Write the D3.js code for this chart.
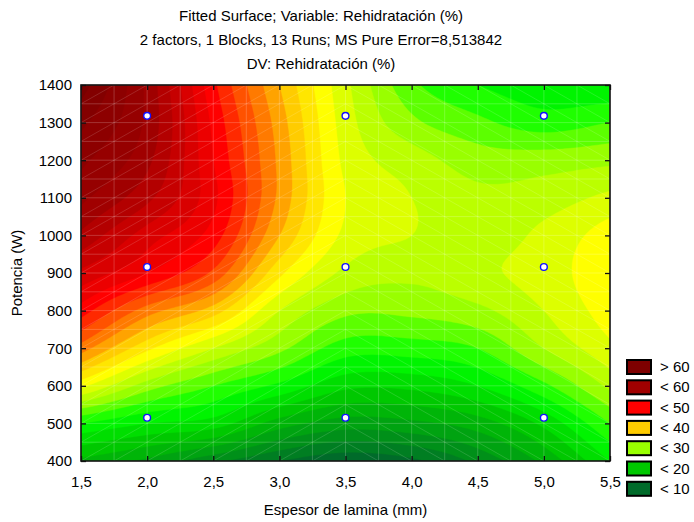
<!DOCTYPE html>
<html><head><meta charset="utf-8">
<script src="https://cdn.jsdelivr.net/npm/d3@7"></script>
<style>
body{margin:0;background:#fff;}
text{font-family:"Liberation Sans",Arial,sans-serif;fill:#000;}
</style></head><body>
<svg id="chart" width="694" height="522"></svg>
<script>
// ---------------- data ----------------
const titleLines = [
  "Fitted Surface; Variable: Rehidratación (%)",
  "2 factors, 1 Blocks, 13 Runs; MS Pure Error=8,513842",
  "DV: Rehidratación (%)"
];
const xTitle = "Espesor de lamina (mm)";
const yTitle = "Potencia (W)";

// grid of the fitted surface
const gridX = [1.5, 2.0, 2.5, 3.0, 3.5, 4.0, 4.5, 5.0, 5.5];
const gridY = [400, 500, 600, 700, 800, 900, 1000, 1100, 1200, 1300, 1400];
// one row per gridY value, one column per gridX value
const gridZ = [
  [17.5, 15.5, 12.5, 10.0,  8.5,  9.5, 12.5, 16.5, 22.0], // 400
  [24.0, 22.0, 21.0, 17.0, 15.0, 15.5, 17.0, 20.5, 26.0], // 500
  [34.5, 29.0, 26.0, 23.5, 20.5, 20.5, 22.0, 25.5, 30.5], // 600
  [43.0, 36.5, 32.0, 28.5, 25.0, 25.0, 26.0, 30.0, 33.5], // 700
  [49.0, 43.0, 39.0, 32.0, 28.5, 28.5, 29.5, 32.0, 35.0], // 800
  [53.5, 50.0, 45.5, 36.5, 31.5, 30.5, 31.5, 33.0, 35.5], // 900
  [57.5, 53.0, 49.0, 40.0, 33.5, 32.0, 31.0, 32.5, 35.0], // 1000
  [60.5, 56.5, 50.5, 41.5, 34.0, 32.0, 30.5, 31.0, 32.5], // 1100
  [62.5, 58.5, 50.0, 41.5, 33.5, 31.0, 29.0, 29.0, 29.5], // 1200
  [64.5, 59.5, 49.5, 41.0, 33.0, 28.5, 26.5, 25.0, 26.0], // 1300
  [67.0, 59.5, 48.5, 40.0, 32.5, 26.5, 24.0, 22.5, 22.0]  // 1400
];

// experimental runs
const runX = [2.0, 2.0, 2.0, 3.5, 3.5, 3.5, 5.0, 5.0, 5.0];
const runY = [515, 916, 1318, 515, 916, 1318, 515, 916, 1318];

const xTicks = [1.5, 2.0, 2.5, 3.0, 3.5, 4.0, 4.5, 5.0, 5.5];
const yTicks = [400, 500, 600, 700, 800, 900, 1000, 1100, 1200, 1300, 1400];

const legendLabels = ["> 60", "< 60", "< 50", "< 40", "< 30", "< 20", "< 10"];
const legendLevels = [67, 60, 50, 40, 30, 20, 10];
const contourStep = 2;

// ---------------- layout ----------------
const svg = d3.select("#chart");
const L = 81, R = 610, T = 85, B = 461;
const x = d3.scaleLinear().domain([1.5, 5.5]).range([L, R]);
const y = d3.scaleLinear().domain([400, 1400]).range([B, T]);

const color = d3.scaleLinear()
  .domain([8, 10, 20, 25, 30, 36, 40, 50, 60, 70])
  .range(["#005c31", "#006b2a", "#00c800", "#00ff00", "#99ff00", "#ffff00", "#ffcc00", "#ff0000", "#a00000", "#700000"])
  .clamp(true);

// ---------------- surface (smooth resampling of the grid) ----------------
const nC = gridX.length, nR = gridY.length;
function g(r, c) {
  if (c < 0) return 2 * g(r, 0) - g(r, 1);
  if (c > nC - 1) return 2 * g(r, nC - 1) - g(r, nC - 2);
  if (r < 0) return 2 * g(0, c) - g(1, c);
  if (r > nR - 1) return 2 * g(nR - 1, c) - g(nR - 2, c);
  return gridZ[r][c];
}
function cr(p0, p1, p2, p3, t) {
  return 0.5 * (2 * p1 + (-p0 + p2) * t + (2 * p0 - 5 * p1 + 4 * p2 - p3) * t * t + (-p0 + 3 * p1 - 3 * p2 + p3) * t * t * t);
}
function zAt(fc, fr) {
  const c = Math.min(Math.floor(fc), nC - 2), r = Math.min(Math.floor(fr), nR - 2);
  const tc = fc - c, tr = fr - r;
  const rows = [];
  for (let m = -1; m <= 2; m++) rows.push(cr(g(r + m, c - 1), g(r + m, c), g(r + m, c + 1), g(r + m, c + 2), tc));
  return cr(rows[0], rows[1], rows[2], rows[3], tr);
}
const NX = 161, NY = 201;
const values = new Float64Array(NX * NY);
for (let j = 0; j < NY; j++) {
  for (let i = 0; i < NX; i++) {
    values[i + j * NX] = zAt(i / (NX - 1) * (nC - 1), j / (NY - 1) * (nR - 1));
  }
}
const x0 = gridX[0], x1 = gridX[nC - 1], y0 = gridY[0], y1 = gridY[nR - 1];
const proj = d3.geoTransform({
  point: function(px, py) {
    const xv = x0 + (px - 0.5) / (NX - 1) * (x1 - x0);
    const yv = y0 + (py - 0.5) / (NY - 1) * (y1 - y0);
    this.stream.point(x(xv), y(yv));
  }
});
const path = d3.geoPath(proj);
const thresholds = d3.range(0, 72, contourStep);
const contours = d3.contours().size([NX, NY]).thresholds(thresholds)(values);

svg.append("clipPath").attr("id", "clip").append("rect")
  .attr("x", L).attr("y", T).attr("width", R - L).attr("height", B - T);

const plot = svg.append("g").attr("clip-path", "url(#clip)");
plot.selectAll("path.band").data(contours).join("path")
  .attr("class", "band")
  .attr("d", path)
  .attr("fill", d => color(d.value + contourStep))
  .attr("stroke", d => color(d.value + contourStep))
  .attr("stroke-width", 0.4);

// faint mesh lines (grid + cell diagonals)
const meshX = d3.range(0, 17).map(k => 1.5 + k * 0.25);
const meshY = d3.range(0, 21).map(k => 400 + k * 50);
const mesh = plot.append("g").attr("stroke", "#fff").attr("stroke-width", 1).attr("fill", "none");
mesh.selectAll("line.mx").data(meshX).join("line")
  .attr("x1", d => x(d)).attr("x2", d => x(d)).attr("y1", T).attr("y2", B)
  .attr("stroke-opacity", 0.2);
mesh.selectAll("line.my").data(meshY).join("line")
  .attr("x1", L).attr("x2", R).attr("y1", d => y(d)).attr("y2", d => y(d))
  .attr("stroke-opacity", 0.2);
const cells = [];
for (let a = 0; a < meshX.length - 1; a++) for (let b = 0; b < meshY.length - 1; b++) cells.push([a, b]);
mesh.selectAll("line.md").data(cells).join("line")
  .attr("x1", d => x(meshX[d[0]]))
  .attr("x2", d => x(meshX[d[0] + 1]))
  .attr("y1", d => meshX[d[0]] < 3.5 ? y(meshY[d[1]]) : y(meshY[d[1] + 1]))
  .attr("y2", d => meshX[d[0]] < 3.5 ? y(meshY[d[1] + 1]) : y(meshY[d[1]]))
  .attr("stroke-opacity", 0.14);

// run points
svg.selectAll("circle.run").data(runX.map((v, k) => [v, runY[k]])).join("circle")
  .attr("class", "run")
  .attr("cx", d => x(d[0])).attr("cy", d => y(d[1])).attr("r", 3.4)
  .attr("fill", "#fff").attr("stroke", "#1010ff").attr("stroke-width", 1.4);

// axes
const fmt = d => d3.format(".1f")(d).replace(".", ",");
const fs = "15px";
const ax = svg.append("g").attr("transform", `translate(0,${B})`)
  .call(d3.axisBottom(x).tickValues(xTicks).tickFormat(fmt).tickSize(-5).tickPadding(15));
const ay = svg.append("g").attr("transform", `translate(${L},0)`)
  .call(d3.axisLeft(y).tickValues(yTicks).tickFormat(d3.format("d")).tickSize(-5).tickPadding(9));
const at = svg.append("g").attr("transform", `translate(0,${T})`)
  .call(d3.axisTop(x).tickValues(xTicks).tickFormat("").tickSize(-5));
const ar = svg.append("g").attr("transform", `translate(${R},0)`)
  .call(d3.axisRight(y).tickValues(yTicks).tickFormat("").tickSize(-5));
[ax, ay, at, ar].forEach(a => {
  a.select(".domain").remove();
  a.selectAll("line").attr("stroke", "#111").attr("stroke-width", 1.3);
  a.selectAll("text").attr("font-size", fs).attr("font-family", '"Liberation Sans", Arial, sans-serif').attr("fill", "#000");
});
svg.append("rect").attr("x", L).attr("y", T).attr("width", R - L).attr("height", B - T)
  .attr("fill", "none").attr("stroke", "#111").attr("stroke-width", 1.6);

// titles
svg.selectAll("text.title").data(titleLines).join("text")
  .attr("class", "title")
  .attr("x", 321).attr("y", (d, k) => 21 + k * 24)
  .attr("text-anchor", "middle").attr("font-size", fs).text(d => d);
svg.append("text").attr("x", (L + R) / 2).attr("y", 515).attr("text-anchor", "middle")
  .attr("font-size", fs).text(xTitle);
svg.append("text").attr("transform", `translate(22,${(T + B) / 2}) rotate(-90)`)
  .attr("text-anchor", "middle").attr("font-size", fs).text(yTitle);

// legend
const lg = svg.append("g");
legendLabels.forEach((lab, k) => {
  const yy = 360 + k * 20.3;
  lg.append("rect").attr("x", 627).attr("y", yy).attr("width", 24).attr("height", 14)
    .attr("fill", color(legendLevels[k])).attr("stroke", "#000").attr("stroke-width", 2);
  lg.append("text").attr("x", 660).attr("y", yy + 12).attr("font-size", fs).text(lab);
});
</script>
</body></html>
